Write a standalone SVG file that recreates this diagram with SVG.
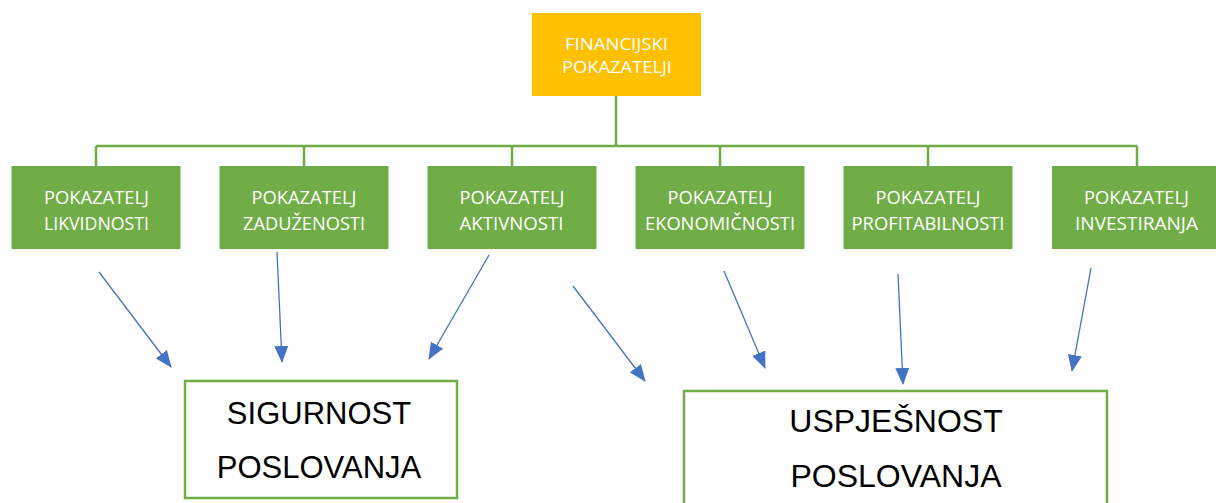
<svg xmlns="http://www.w3.org/2000/svg" width="1216" height="503" viewBox="0 0 1216 503">
<defs>
<style>
.top{fill:#FFC000}
.box{fill:#70AD47}
.res{fill:#FFFFFF;stroke:#70AD47;stroke-width:2.5}
.lbl{font-family:"Open Sans","Liberation Sans",sans-serif;font-size:19px;fill:#FFFFFF;text-anchor:middle}
.tl{font-size:17px}
.big{font-family:"Liberation Sans",Arial,sans-serif;fill:#000000;text-anchor:middle}
.tree{fill:none;stroke:#70AD47;stroke-width:2.5}
.arr{fill:none;stroke:#4472C4;stroke-width:1.3;marker-end:url(#ah)}
</style>
<marker id="ah" viewBox="0 0 17 14" refX="16" refY="7" markerWidth="17" markerHeight="14" markerUnits="userSpaceOnUse" orient="auto">
<path d="M0,0 L17,7 L0,14 z" fill="#4472C4"/>
</marker>
</defs>
<rect width="1216" height="503" fill="#FFFFFF"/>
<g id="connectors">
<path class="tree" d="M616,96 V146 M96,146 H1137 M96,146 V166 M304,146 V166 M512,146 V166 M720,146 V166 M928,146 V166 M1137,146 V166"/>
<path class="arr" d="M99,272 L171,367"/>
<path class="arr" d="M277,252 L282,362"/>
<path class="arr" d="M489,255 L429,359"/>
<path class="arr" d="M573,286 L645,381"/>
<path class="arr" d="M724,271 L765,368"/>
<path class="arr" d="M898,274 L903,384"/>
<path class="arr" d="M1091,268 L1072,371"/>
</g>
<g id="financijski">
<rect class="top" x="532" y="13" width="169" height="83"/>
<text class="lbl tl" x="616.5" y="49.5" textLength="103" lengthAdjust="spacingAndGlyphs">FINANCIJSKI</text>
<text class="lbl tl" x="617" y="73" textLength="110" lengthAdjust="spacingAndGlyphs">POKAZATELJI</text>
</g>
<g id="likvidnost">
<rect class="box" x="11.5" y="166" width="169" height="83"/>
<text class="lbl" x="96.5" y="204" textLength="105" lengthAdjust="spacingAndGlyphs">POKAZATELJ</text>
<text class="lbl" x="96.5" y="230" textLength="105" lengthAdjust="spacingAndGlyphs">LIKVIDNOSTI</text>
</g>
<g id="zaduzenost">
<rect class="box" x="219.5" y="166" width="169" height="83"/>
<text class="lbl" x="304" y="204" textLength="105" lengthAdjust="spacingAndGlyphs">POKAZATELJ</text>
<text class="lbl" x="304" y="230" textLength="122" lengthAdjust="spacingAndGlyphs">ZADUŽENOSTI</text>
</g>
<g id="aktivnost">
<rect class="box" x="427.5" y="166" width="169" height="83"/>
<text class="lbl" x="512" y="204" textLength="105" lengthAdjust="spacingAndGlyphs">POKAZATELJ</text>
<text class="lbl" x="511.5" y="230" textLength="104" lengthAdjust="spacingAndGlyphs">AKTIVNOSTI</text>
</g>
<g id="ekonomicnost">
<rect class="box" x="635.5" y="166" width="169" height="83"/>
<text class="lbl" x="720" y="204" textLength="105" lengthAdjust="spacingAndGlyphs">POKAZATELJ</text>
<text class="lbl" x="720" y="230" textLength="150" lengthAdjust="spacingAndGlyphs">EKONOMIČNOSTI</text>
</g>
<g id="profitabilnost">
<rect class="box" x="843.5" y="166" width="169" height="83"/>
<text class="lbl" x="928" y="204" textLength="105" lengthAdjust="spacingAndGlyphs">POKAZATELJ</text>
<text class="lbl" x="928" y="230" textLength="153" lengthAdjust="spacingAndGlyphs">PROFITABILNOSTI</text>
</g>
<g id="investiranje">
<rect class="box" x="1052" y="166" width="169" height="83"/>
<text class="lbl" x="1136.5" y="204" textLength="105" lengthAdjust="spacingAndGlyphs">POKAZATELJ</text>
<text class="lbl" x="1136.5" y="230" textLength="123" lengthAdjust="spacingAndGlyphs">INVESTIRANJA</text>
</g>
<g id="sigurnost">
<rect class="res" x="185" y="381" width="272" height="117"/>
<text class="big" x="319" y="424" font-size="31">SIGURNOST</text>
<text class="big" x="319" y="478" font-size="31">POSLOVANJA</text>
</g>
<g id="uspjesnost">
<rect class="res" x="684" y="391" width="423" height="130"/>
<text class="big" x="896" y="432" font-size="32">USPJEŠNOST</text>
<text class="big" x="896" y="487" font-size="32">POSLOVANJA</text>
</g>
</svg>
